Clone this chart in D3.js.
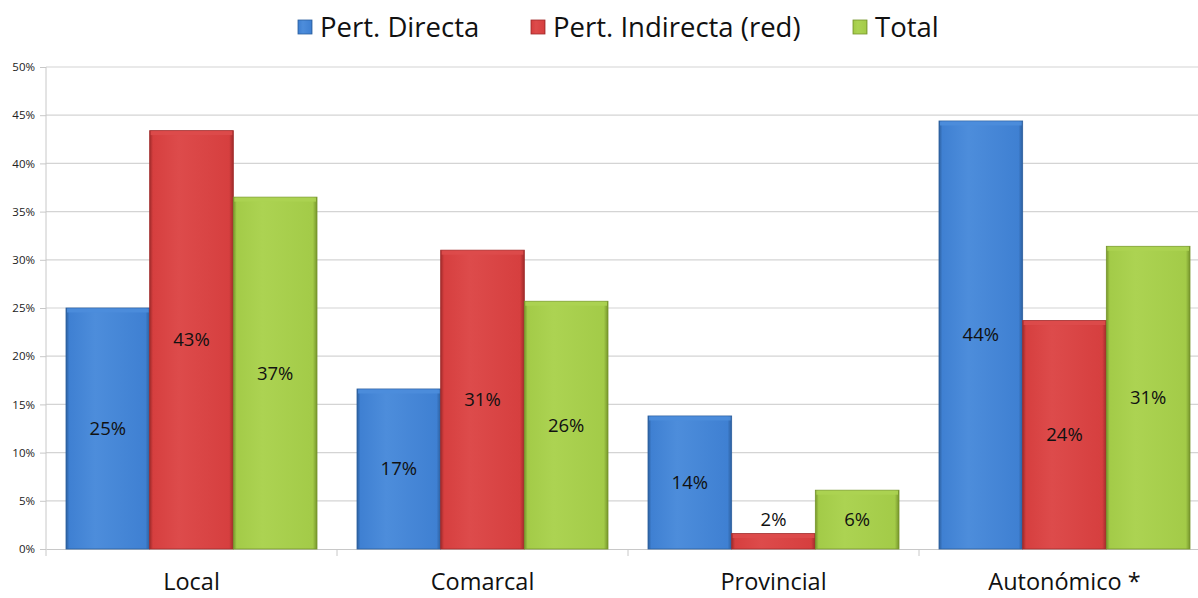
<!DOCTYPE html>
<html>
<head>
<meta charset="utf-8">
<script src="https://cdn.jsdelivr.net/npm/d3@7"></script>
<style>
  body { margin: 0; background: #fff; }
  svg { display: block; font-family: "Open Sans", "Noto Sans", sans-serif; }
</style>
</head>
<body>
<div id="stage"></div>
<script>
// chart data
var categories = ["Local", "Comarcal", "Provincial", "Autonómico *"];
var series_names = ["Pert. Directa", "Pert. Indirecta (red)", "Total"];
var directa = [25.0, 16.6, 13.8, 44.4];
var indirecta = [43.4, 31.0, 1.6, 23.7];
var total = [36.5, 25.7, 6.1, 31.4];
var y_ticks = [0, 5, 10, 15, 20, 25, 30, 35, 40, 45, 50];

var series_values = [directa, indirecta, total];
var colors = [
  { mid: "#3f80d2", light: "#4d8ddb", dark: "#2c5f9e" },
  { mid: "#d63f3f", light: "#dd4b4b", dark: "#a02b2b" },
  { mid: "#a3cb48", light: "#acd352", dark: "#76952c" }
];

var stage_width = 1198;
var stage_height = 598;

build_scene();

function build_scene() {
  var margin = { top: 67, left: 46, bottom: 49 };
  var plot_right = 1210; // plot is cropped at the right edge
  var base_y = stage_height - margin.bottom;

  var svg = d3.select("#stage")
    .append("svg")
    .attr("width", stage_width)
    .attr("height", stage_height)
    .style("overflow", "hidden");

  var defs = svg.append("defs");
  colors.forEach(function(c, i) {
    var g = defs.append("linearGradient")
      .attr("id", "grad" + i)
      .attr("x1", "0").attr("x2", "1").attr("y1", "0").attr("y2", "0");
    g.append("stop").attr("offset", "0%").attr("stop-color", c.dark);
    g.append("stop").attr("offset", "4%").attr("stop-color", c.mid);
    g.append("stop").attr("offset", "35%").attr("stop-color", c.light);
    g.append("stop").attr("offset", "95%").attr("stop-color", c.mid);
    g.append("stop").attr("offset", "100%").attr("stop-color", c.dark);
  });

  // scales
  var x0 = d3.scaleBand()
    .domain(categories)
    .range([margin.left, plot_right])
    .paddingInner(0)
    .paddingOuter(0);
  var x1 = d3.scaleBand()
    .domain([0, 1, 2])
    .range([20, x0.bandwidth() - 20]);
  var y = d3.scaleLinear().domain([0, 50]).range([base_y, margin.top]);

  // gridlines
  svg.append("g")
    .selectAll("line")
    .data(y_ticks.filter(function(d) { return d > 0; }))
    .enter()
    .append("line")
    .attr("x1", margin.left)
    .attr("x2", plot_right)
    .attr("y1", function(d) { return y(d); })
    .attr("y2", function(d) { return y(d); })
    .attr("stroke", "#d4d4d4")
    .attr("stroke-width", 1.2);

  // y axis
  var y_axis = svg.append("g")
    .attr("transform", "translate(" + margin.left + ",0)")
    .call(d3.axisLeft(y).tickValues(y_ticks).tickSize(6)
      .tickFormat(function(d) { return d + "%"; }));
  y_axis.select(".domain").attr("stroke", "#c8c8c8").attr("d", "M0," + y(50) + "V" + (base_y + 7));
  y_axis.selectAll(".tick line").attr("stroke", "#c8c8c8");
  y_axis.selectAll(".tick text")
    .attr("font-size", "11.5px")
    .attr("fill", "#222")
    .attr("x", -11)
    .style("font-family", "'Open Sans', sans-serif");

  // x axis
  var x_axis = svg.append("g")
    .attr("transform", "translate(0," + base_y + ")")
    .call(d3.axisBottom(x0).tickSize(0));
  x_axis.select(".domain").attr("stroke", "#c8c8c8").attr("stroke-width", 1.2);
  x_axis.selectAll(".tick text")
    .attr("font-size", "23.5px")
    .attr("fill", "#111")
    .attr("y", 24)
    .style("font-family", "'Open Sans', sans-serif");
  // separator ticks between categories
  x_axis.selectAll(".sep")
    .data(categories.slice(1))
    .enter()
    .append("line")
    .attr("x1", function(d) { return x0(d); })
    .attr("x2", function(d) { return x0(d); })
    .attr("y1", 0)
    .attr("y2", 7)
    .attr("stroke", "#c8c8c8");

  // bars
  var groups = svg.append("g")
    .selectAll("g")
    .data(categories)
    .enter()
    .append("g")
    .attr("transform", function(d) { return "translate(" + x0(d) + ",0)"; });

  groups.each(function(cat, ci) {
    var g = d3.select(this);
    series_values.forEach(function(vals, si) {
      var v = vals[ci];
      var bx = x1(si);
      var bw = x1.bandwidth();
      g.append("rect")
        .attr("x", bx)
        .attr("y", y(v))
        .attr("width", bw)
        .attr("height", base_y - y(v))
        .attr("fill", "url(#grad" + si + ")")
        .attr("stroke", colors[si].dark)
        .attr("stroke-width", 0.8);
      // top bevel highlight
      g.append("rect")
        .attr("x", bx + 1)
        .attr("y", y(v) + 0.5)
        .attr("width", bw - 2)
        .attr("height", Math.min(4, base_y - y(v) - 1))
        .attr("fill", colors[si].light)
        .attr("opacity", 0.9);

      var h = base_y - y(v);
      var ly = h < 25 ? y(v) - 14 : (y(v) + base_y) / 2;
      g.append("text")
        .attr("x", bx + bw / 2)
        .attr("y", ly)
        .attr("dy", "0.35em")
        .attr("text-anchor", "middle")
        .attr("font-size", "18.5px")
        .attr("fill", "#111")
        .text(Math.round(v) + "%");
    });
  });

  // legend
  var legend_x = [298, 531, 853];
  var legend = svg.append("g");
  series_names.forEach(function(name, i) {
    legend.append("rect")
      .attr("x", legend_x[i])
      .attr("y", 20)
      .attr("width", 14)
      .attr("height", 14)
      .attr("fill", "url(#grad" + i + ")")
      .attr("stroke", colors[i].dark)
      .attr("stroke-width", 0.8);
    legend.append("text")
      .attr("x", legend_x[i] + 22)
      .attr("y", 27)
      .attr("dy", "0.35em")
      .attr("font-size", "27.5px")
      .attr("fill", "#111")
      .text(name);
  });
}
</script>
</body>
</html>
